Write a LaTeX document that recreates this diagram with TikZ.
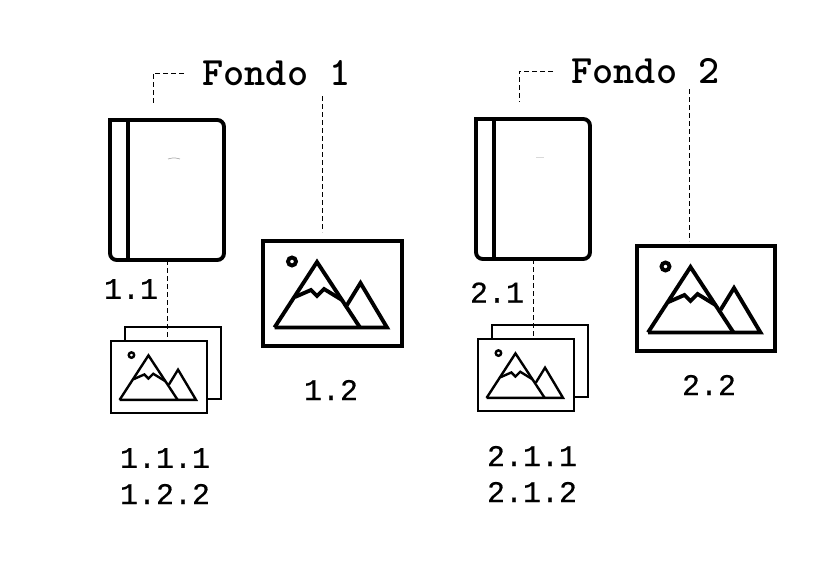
\documentclass[tikz,border=0pt]{standalone}
\usepackage{fontspec}
\newfontfamily\numfont[FakeBold=0.4]{Liberation Mono}
\begin{document}
\begin{tikzpicture}[
  x=0.75pt, y=-0.75pt,
  bookbox/.style={minimum width=85.5pt, minimum height=105pt, inner sep=0pt},
  photobox/.style={draw=black, fill=white, line width=#1, inner sep=0pt},
  bigphoto/.style={photobox=3pt, minimum width=104pt, minimum height=79pt},
  smallphoto/.style={photobox=1.9pt, minimum width=72pt, minimum height=54pt},
  link/.style={line width=0.55pt, dash pattern=on 3.6pt off 2.4pt},
  title/.style={font=\fontsize{30.2}{31}\ttfamily\bfseries, inner sep=0pt},
  num/.style={font=\fontsize{22.5}{24}\numfont, inner sep=0pt},
  smudge/.style={draw=black!#1, line width=0.5pt},
  bookcover/.pic={
    \draw[line width=2.9pt] (-57,-70) [rounded corners=5pt] -- (57,-70)
      -- (57,70) -- (-57,70) [sharp corners] -- cycle;
    \draw[line width=2.9pt] (-39.3,-70) -- (-39.3,70);
  },
  mountains/.pic={
    \draw (-58,33.75) -- (-15.5,-31.75) -- (27.5,33.75);
    \draw (-58,33.75) -- (54.5,33.75) -- (28,-10.75) -- (14.5,11.25);
    \draw (-37.5,3.25) -- (-21.5,-3.75) -- (-15.5,2.25) -- (-8.5,-4.75) -- (9.5,6.25);
    \draw (-40.5,-32.25) circle[radius=4];
  },
]
\useasboundingbox (0,0) rectangle (840,580);

% ── Fondo 1 ──
\node[title] (fondo1) at (276.5,73) {Fondo 1};
\node[bookbox] (book1) at (167,190) {};
\pic at (book1.center) {bookcover};
\draw[smudge=35] (168,159) .. controls (174,157.5) .. (180,159);
\node[bigphoto] (photo12) at (332.5,293.75) {};
\pic[line width=2.9pt] at (photo12.center) {mountains};
\node[smallphoto] (back11) at (172.8,363) {};
\node[smallphoto] (front11) at (159,377) {};
\pic[line width=1.8pt, scale=0.68] at (front11.center) {mountains};

\node[num] (num11) at (131,289) {1.1};
\node[num] (num12) at (331,390) {1.2};
\node[num] (num111) at (165,458) {1.1.1};
\node[num] (num122) at (165,494) {1.2.2};

% ── Fondo 2 ──
\node[title] (fondo2) at (645.5,71) {Fondo 2};
\node[bookbox] (book2) at (533,189) {};
\pic at (book2.center) {bookcover};
\draw[smudge=15] (536,157) -- (544,157);
\node[bigphoto] (photo22) at (706,298.75) {};
\pic[line width=2.9pt] at (photo22.center) {mountains};
\node[smallphoto] (back21) at (539.8,361) {};
\node[smallphoto] (front21) at (526,375) {};
\pic[line width=1.8pt, scale=0.68] at (front21.center) {mountains};

\node[num] (num21) at (497,292.5) {2.1};
\node[num] (num22) at (709,385) {2.2};
\node[num] (num211) at (532,456) {2.1.1};
\node[num] (num212) at (532,492) {2.1.2};

% ── Dashed links ──
\draw[link, shorten <=13.5pt, shorten >=12pt]
  (fondo1.west) -| ([xshift=-10pt]book1.north);
\draw[link] ([xshift=-7.6pt,yshift=107pt]photo12.north)
  -- ([xshift=-7.6pt,yshift=5pt]photo12.north);
\draw[link] (book1.south) -- ([yshift=-1.5pt]book1.south |- front11.north);

\draw[link, shorten <=13.5pt, shorten >=12.6pt]
  (fondo2.west) -| ([xshift=-10.2pt]book2.north);
\draw[link] ([xshift=-12.5pt,yshift=116pt]photo22.north)
  -- ([xshift=-12.5pt,yshift=2pt]photo22.north);
\draw[link] (book2.south) -- ([yshift=-1.5pt]book2.south |- front21.north);

\end{tikzpicture}
\end{document}
